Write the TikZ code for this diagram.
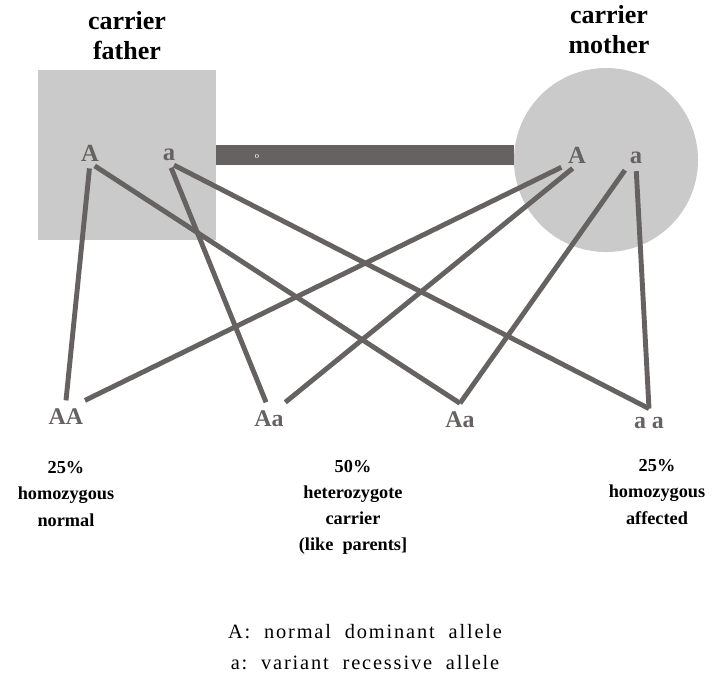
\documentclass[tikz,border=0pt]{standalone}
\usepackage{fontspec}
\setmainfont{Liberation Serif}
\usetikzlibrary{calc}
\definecolor{shade}{HTML}{CACACA}
\definecolor{ink}{HTML}{676262}

\begin{document}
\begin{tikzpicture}[x=0.025cm,y=-0.025cm,
  head/.style={font=\fontsize{18.5}{21.3}\selectfont\bfseries,align=center},
  allele/.style={text=ink,font=\fontsize{17.5}{20}\selectfont\bfseries,inner sep=1pt},
  child/.style={text=ink,font=\fontsize{17}{20}\selectfont\bfseries,inner xsep=1pt,inner ysep=6pt},
  gline/.style={draw=ink,line width=3.5pt,shorten <=4pt},
  pct/.style={font=\fontsize{13}{18.5}\selectfont\bfseries,align=center},
  legend/.style={font=\fontsize{14.5}{22}\selectfont\addfontfeature{LetterSpace=9},align=center}]
\useasboundingbox (0,0) rectangle (724,679);
% parents
\node[fill=shade,minimum width=4.45cm,minimum height=4.25cm,inner sep=0pt] (father) at (127,155) {};
\node[fill=shade,circle,minimum size=4.6cm,inner sep=0pt] (mother) at (606,160) {};
\draw[ink,line width=0.5cm] (father.east) -- (father.east -| mother.west);
\node[text=white,font=\fontsize{6}{7}\selectfont,inner sep=0pt] (ring) at (257,157) {o};
\node[head] (fhead) at (127,36) {carrier\\father};
\node[head] (mhead) at (609,30) {carrier\\mother};

% alleles of each parent
\node[allele] (fA) at (90,153) {A};
\node[allele] (fa) at (169,155) {a};
\node[allele] (mA) at (577,155) {A};
\node[allele] (ma) at (636,158) {a};

% offspring
\node[child] (AA) at (66,417) {AA};
\node[child] (Aa1) at (269,419) {Aa};
\node[child] (Aa2) at (460,420) {Aa};
\node[child] (aa) at (649,423) {a\ a};

% crossing lines
\draw[gline] (fA.south) -- (AA.north);
\draw[gline] (fA.south) -- (Aa2.north);
\draw[gline] (fa.south) -- (Aa1.100);
\draw[gline] (fa.south) -- (aa.north);
\draw[gline] (mA.south west) -- (AA.north east);
\draw[gline] (mA.south) -- (Aa1.north east);
\draw[gline] (ma.south west) -- (Aa2.north);
\draw[gline] (ma.south) -- (aa.north);

% ratios
\node[pct] (p1) at (66,494) {25\%\\homozygous\\normal};
\node[pct] (p2) at (353,507) {50\%\\heterozygote\\carrier\\(like\ \ parents]};
\node[pct] (p3) at (657,492) {25\%\\homozygous\\affected};

% key
\node[legend] (key) at (365,647) {A:\ \ normal\ \ dominant\ \ allele\\a:\ \ variant\ \ recessive\ \ allele};
\end{tikzpicture}
\end{document}
